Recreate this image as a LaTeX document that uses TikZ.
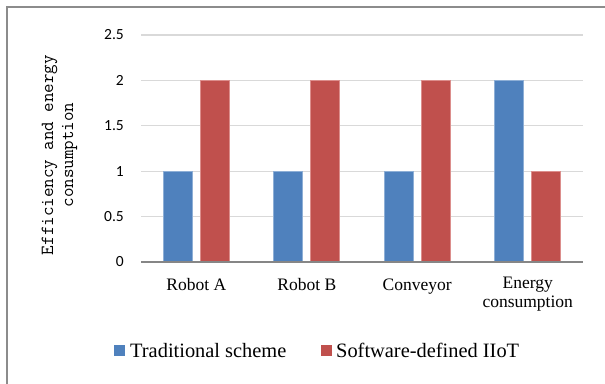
\documentclass[tikz,border=0pt]{standalone}
\usepackage{fontspec}
\setmainfont{Liberation Serif}
\newfontfamily\tickfont{Carlito}
\definecolor{barblue}{HTML}{4F81BD}
\definecolor{barred}{HTML}{C0504D}
\definecolor{barblueedge}{HTML}{8EAFD6}
\definecolor{barrededge}{HTML}{DC8E8C}
\definecolor{gridgray}{HTML}{D9D9D9}
\definecolor{axisgray}{HTML}{868686}
\definecolor{framegray}{HTML}{8C8C8C}
\begin{document}
\begin{tikzpicture}[x=1pt,y=-1pt,
  gridline/.style={draw=gridgray,line width=1.3pt},
  axisline/.style={draw=axisgray,line width=2pt},
  bluebar/.style={fill=barblue,draw=barblueedge,line width=0.8pt},
  redbar/.style={fill=barred,draw=barrededge,line width=0.8pt},
  ticklabel/.style={anchor=east,font=\tickfont\fontsize{15.5}{18}\selectfont,inner sep=0pt},
  catlabel/.style={anchor=base,font=\fontsize{17.5}{20}\selectfont,inner sep=0pt,align=center},
  legendtext/.style={anchor=base west,font=\fontsize{20.4}{24}\selectfont,inner sep=0pt},
  axistitle/.style={rotate=90,anchor=base,font=\ttfamily\fontsize{18.5}{20}\selectfont,inner sep=0pt}]
\useasboundingbox (0,0) rectangle (605,383);
\fill[white] (0,0) rectangle (605,383);
% chart frame (runs off the right and bottom edges)
\draw[draw=framegray,line width=1.8pt] (7,390) -- (7,7) -- (612,7);

% horizontal gridlines and value labels
\foreach \v in {0.5,1,1.5,2,2.5}{
  \draw[gridline] (141,262-90.8*\v) -- (583,262-90.8*\v);
}
\foreach \v/\lab [count=\i] in {0/0,0.5/0.5,1/1,1.5/1.5,2/2,2.5/2.5}{
  \node[ticklabel] (tick\i) at (124,262-90.8*\v) {\lab};
}

% bars: traditional scheme / software-defined IIoT
\foreach \t/\s [count=\i] in {1/2,1/2,1/2,2/1}{
  \pgfmathsetmacro{\c}{141+110.5*(\i-0.5)}
  \draw[bluebar] (\c-33,262) rectangle (\c-4,262-90.8*\t);
  \draw[redbar] (\c+4,262) rectangle (\c+33,262-90.8*\s);
}
% category axis
\draw[axisline] (141,262) -- (583,262);

% category labels
\node[catlabel] (catA) at (196.25,290) {Robot A};
\node[catlabel] (catB) at (306.75,290) {Robot B};
\node[catlabel] (catC) at (417.25,290) {Conveyor};
\node[catlabel,anchor=north] (catD) at (527.75,276.5) {Energy\\[-0.5pt]consumption};

% value axis title
\node[axistitle] (title1) at (53,155) {Efficiency and energy};
\node[axistitle] (title2) at (73,155) {consumption};

% legend
\fill[barblue] (114,344.5) rectangle (125,356);
\node[legendtext] (leg1) at (130,357) {Traditional scheme};
\fill[barred] (320.5,344.5) rectangle (331.5,356);
\node[legendtext] (leg2) at (336,357) {Software-defined IIoT};
\end{tikzpicture}
\end{document}
